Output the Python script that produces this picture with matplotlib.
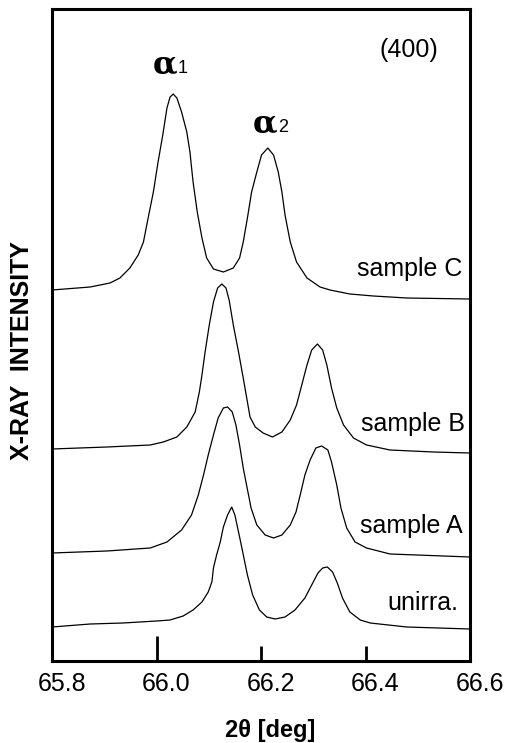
import matplotlib
matplotlib.use('Agg')
import matplotlib.pyplot as plt
import matplotlib.transforms as mtransforms

plt.rcParams['font.family'] = ['Liberation Sans', 'DejaVu Sans']

# ── Daten: 2theta [deg] und Intensitaet (willk. Einheiten, gestapelt) ─────────
tth_c = [65.800, 65.873, 65.911, 65.930, 65.949, 65.965, 65.975, 65.984, 65.994,
         66.003, 66.012, 66.020, 66.026, 66.032, 66.039, 66.048, 66.058, 66.064,
         66.070, 66.078, 66.087, 66.096, 66.109, 66.128, 66.147, 66.159, 66.166,
         66.174, 66.182, 66.192, 66.201, 66.213, 66.224, 66.233, 66.240, 66.246,
         66.256, 66.268, 66.288, 66.313, 66.332, 66.370, 66.415, 66.479, 66.600]
int_c = [371, 374, 378, 383, 393, 406, 419, 443, 469,
         499, 526, 553, 564, 567, 563, 549, 529, 509,
         479, 449, 423, 403, 392, 389, 393, 403, 419,
         443, 469, 489, 506, 513, 506, 489, 469, 446,
         419, 399, 383, 374, 371, 367, 365, 363, 362]

tth_b = [65.800, 65.905, 65.988, 66.013, 66.039, 66.058, 66.074, 66.082, 66.087,
         66.093, 66.101, 66.109, 66.117, 66.125, 66.133, 66.139, 66.147, 66.157,
         66.166, 66.174, 66.179, 66.189, 66.204, 66.222, 66.240, 66.256, 66.268,
         66.278, 66.288, 66.297, 66.308, 66.318, 66.326, 66.335, 66.345, 66.358,
         66.377, 66.402, 66.447, 66.530, 66.600]
int_b = [212, 214, 216, 219, 224, 234, 249, 269, 286,
         309, 336, 359, 373, 377, 373, 361, 336, 309,
         283, 259, 244, 234, 228, 224, 229, 241, 256,
         276, 296, 311, 317, 311, 296, 273, 253, 236,
         223, 216, 211, 209, 208]

tth_a = [65.800, 65.905, 65.960, 65.988, 66.020, 66.048, 66.067, 66.080, 66.090,
         66.099, 66.109, 66.118, 66.128, 66.136, 66.145, 66.152, 66.159, 66.166,
         66.175, 66.181, 66.192, 66.208, 66.224, 66.240, 66.256, 66.267, 66.275,
         66.284, 66.294, 66.305, 66.316, 66.328, 66.335, 66.345, 66.353, 66.364,
         66.380, 66.402, 66.447, 66.600]
int_a = [108, 110, 112, 113, 119, 131, 146, 166, 186,
         206, 226, 243, 253, 254, 249, 236, 216, 193,
         169, 153, 136, 126, 123, 126, 136, 149, 166,
         186, 201, 213, 215, 211, 199, 176, 153, 133,
         119, 113, 107, 104]

tth_u = [65.800, 65.873, 65.936, 66.000, 66.026, 66.051, 66.070, 66.087, 66.099,
         66.106, 66.109, 66.115, 66.122, 66.128, 66.136, 66.144, 66.150, 66.157,
         66.165, 66.174, 66.184, 66.197, 66.211, 66.227, 66.246, 66.265, 66.284,
         66.297, 66.309, 66.318, 66.327, 66.337, 66.346, 66.356, 66.370, 66.390,
         66.409, 66.479, 66.600]
int_u = [34, 37, 38, 40, 41, 45, 51, 59, 69,
         79, 93, 106, 119, 134, 146, 154, 146, 129,
         109, 86, 66, 51, 44, 42, 44, 51, 63,
         76, 88, 93, 94, 89, 78, 63, 49, 41,
         38, 34, 32]

sample_names = ['sample C', 'sample B', 'sample A', 'unirra.']
label_tth = [66.585, 66.590, 66.586, 66.578]
label_int = [385, 230, 128, 51]

x_ticks = [65.8, 66.0, 66.2, 66.4, 66.6]
x_ticklabels = ['65.8', '66.0', '66.2', '66.4', '66.6']

# ── Figur ─────────────────────────────────────────────────────────────────────
fig = plt.figure(figsize=(5.05, 7.43), dpi=100)
ax = fig.add_axes([52 / 505, 82 / 743, 418 / 505, 652 / 743])

for tth, inten in [(tth_c, int_c), (tth_b, int_b), (tth_a, int_a), (tth_u, int_u)]:
    ax.plot(tth, inten, color='black', linewidth=0.9, solid_joinstyle='round')

ax.set_xlim(65.8, 66.6)
ax.set_ylim(0, 652)
ax.set_yticks([])

ax.set_xticks(x_ticks)
ax.set_xticklabels(x_ticklabels, fontsize=18)
ax.tick_params(axis='x', direction='in', length=11, width=2, pad=8)
# langer Strich bei 66.0
ax.xaxis.get_major_ticks()[1].tick1line.set_markersize(18)
# Beschriftungen etwas nach rechts versetzt wie im Original
shift = mtransforms.ScaledTranslation(10 / 100, 0, fig.dpi_scale_trans)
for lbl in ax.get_xticklabels():
    lbl.set_transform(lbl.get_transform() + shift)

for spine in ax.spines.values():
    spine.set_linewidth(2.2)

# Probenbezeichnungen
for name, xt, yt in zip(sample_names, label_tth, label_int):
    ax.text(xt, yt, name, ha='right', va='baseline', fontsize=18)

# Reflexbezeichnungen
ax.text(66.016, 588, '\u03b1', ha='center', va='baseline', fontsize=23,
        family='DejaVu Serif', fontweight='bold')
ax.text(66.040, 588, '1', ha='left', va='baseline', fontsize=13)
ax.text(66.208, 529, '\u03b1', ha='center', va='baseline', fontsize=23,
        family='DejaVu Serif', fontweight='bold')
ax.text(66.232, 529, '2', ha='left', va='baseline', fontsize=13)
ax.text(66.483, 611, '(400)', ha='center', va='center', fontsize=18)

# Achsentitel
fig.text(270 / 505, 1 - 730 / 743, '2\u03b8 [deg]', ha='center', va='center',
         fontsize=17, fontweight='bold')
fig.text(22 / 505, 1 - 350 / 743, 'X-RAY  INTENSITY', ha='center', va='center',
         rotation=90, fontsize=18, fontweight='bold')

fig.savefig('out.png', dpi=100, facecolor='white')
